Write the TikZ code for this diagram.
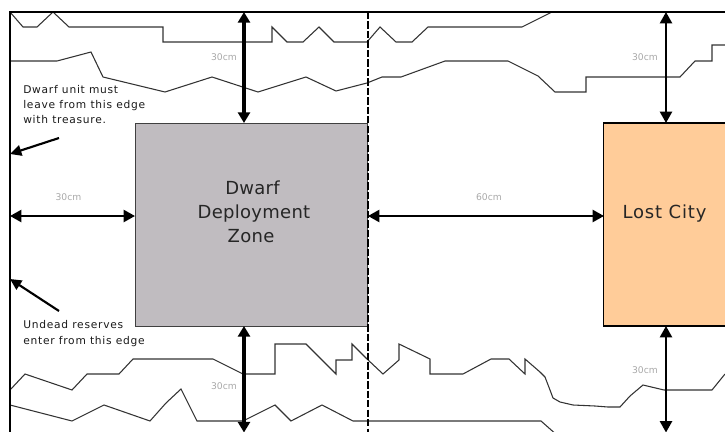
\documentclass[tikz,border=0pt]{standalone}
\usepackage{fontspec}
\setmainfont{DejaVu Sans}
\newfontfamily\notefont[LetterSpace=7]{DejaVu Sans}
\newfontfamily\zonefont[LetterSpace=1.5]{DejaVu Sans}
\newfontfamily\cityfont[LetterSpace=4.5]{DejaVu Sans}
\usetikzlibrary{arrows.meta}
\definecolor{zonegrey}{HTML}{C0BCC0}
\definecolor{cityorange}{HTML}{FFCC99}
\definecolor{dimgrey}{HTML}{A8A8A8}
\definecolor{terrain}{HTML}{333333}
\tikzset{
  px/.style={x=0.75pt,y=-0.75pt},
  terrainline/.style={draw=terrain,line width=0.8pt,line join=miter},
  framebar/.style={draw=black,line width=0.9pt},
  centerline/.style={draw=black,line width=1.5pt,dash pattern=on 5.5pt off 1.6pt},
  zone/.style={draw=black!75,line width=0.8pt,inner sep=0pt},
  zonetext/.style={align=center,font=\zonefont\fontsize{13.5pt}{18pt}\selectfont,text=black!85,inner sep=0pt},
  dim/.style={font=\fontsize{6.9pt}{8pt}\selectfont,text=dimgrey,inner sep=0pt},
  note/.style={font=\notefont\fontsize{8pt}{11.5pt}\selectfont,align=left,anchor=base west,inner sep=0pt,text=black!90},
  heavy/.style={line width=2.6pt,{Triangle[length=8pt,width=9pt]}-{Triangle[length=8pt,width=9pt]}},
  medium/.style={line width=1.7pt,{Triangle[length=8.5pt,width=9pt]}-{Triangle[length=8.5pt,width=9pt]}},
  pointer/.style={line width=1.6pt,-{Triangle[length=8.5pt,width=8pt]}},
}
\begin{document}
\begin{tikzpicture}[px]
\useasboundingbox (0,0) rectangle (725,432);
% terrain
\begin{scope}
\clip (10,12) rectangle (725,432);
\draw[terrainline] (10,12)--(23,27)--(37,27)--(53,12)--(69,27)--(163,27)--(163,42)--(272,42)--(272,27)--(287,42)--(303,42)--(319,27)--(334,42)--(367,42)--(380,27)--(396,42)--(412,42)--(428,27)--(522,27)--(552,12);
\draw[terrainline] (10,61)--(57,61)--(91,52)--(103,77)--(165,92)--(212,77)--(258,92)--(306,77)--(336,91)--(367,83)--(382,77)--(401,77)--(445,61)--(508,61)--(538,76)--(555,92)--(586,92)--(586,77)--(680,77)--(695,61)--(712,61)--(712,45)--(725,45);
\draw[terrainline] (10,390)--(25,374)--(72,390)--(87,374)--(119,374)--(133,359)--(213,359)--(243,374)--(275,374)--(275,344)--(306,344)--(336,374)--(336,360)--(352,360)--(352,344)--(367,359)--(383,374)--(399,360)--(399,344)--(430,359)--(430,374)--(463,374)--(491,359)--(509,359)--(525,374)--(525,359)--(540,372)--(545,377)--(550,390)--(553,398)--(560,402)--(573,405)--(595,406)--(608,407)--(620,407)--(630,396)--(643,385)--(664,390)--(712,390)--(725,374);
\draw[terrainline] (10,405)--(72,421)--(104,405)--(150,421)--(166,403)--(181,389)--(197,421)--(243,421)--(275,405)--(291,421)--(322,405)--(353,421)--(541,421)--(558,436);
\end{scope}
% frame and centre line
\coordinate (tl) at (10,12);
\coordinate (tr) at (725,12);
\coordinate (bl) at (10,432);
\coordinate (ct) at (367.5,12);
\coordinate (cb) at (367.5,432);
\draw[framebar] (bl)--(tl)--(tr);
% zones
\node[zone,fill=zonegrey,minimum width=232*0.75pt,minimum height=203*0.75pt,anchor=north west] (dwarf) at (135,123) {};
\node[zonetext,anchor=base] (dwarftext) at (254,218) {\makebox[0pt]{Deployment}};
\node[zonetext,anchor=base] (dwarftop) at (252.5,194) {Dwarf};
\node[zonetext,anchor=base] (dwarfbot) at (251,242) {Zone};
\fill[cityorange,draw=black,line width=0.8pt] (603.5,123) -- (727,123) -- (727,326) -- (603.5,326) -- cycle;
\node[anchor=base,inner sep=0pt,font=\cityfont\fontsize{13.5pt}{18pt}\selectfont,text=black!85] (city) at (664.5,218) {Lost City};
\draw[centerline] (ct)--(cb);
% dimension arrows
\coordinate (a1) at (244,12);
\coordinate (a2) at (244,123);
\coordinate (a3) at (244,326);
\coordinate (a4) at (244,432.5);
\coordinate (b1) at (666,12);
\coordinate (b2) at (666,123);
\coordinate (b3) at (666,326);
\coordinate (b4) at (666,432.5);
\coordinate (h1) at (10,216);
\coordinate (h2) at (135,216);
\coordinate (h3) at (368,216);
\coordinate (h4) at (604,216);
\draw[heavy] (a1)--(a2);
\draw[heavy] (a3)--(a4);
\draw[medium] (b1)--(b2);
\draw[medium] (b3)--(b4);
\draw[medium] (h1)--(h2);
\draw[medium] (h3)--(h4);
% pointers
\coordinate (p1) at (59,138);
\coordinate (p2) at (10,154);
\coordinate (p3) at (59,311);
\coordinate (p4) at (10,279);
\draw[pointer] (p1)--(p2);
\draw[pointer] (p3)--(p4);
% labels
\node[dim] (d1) at (224,57) {30cm};
\node[dim] (d2) at (645,57) {30cm};
\node[dim] (d3) at (68.5,197) {30cm};
\node[dim] (d4) at (489,197) {60cm};
\node[dim] (d5) at (224,386) {30cm};
\node[dim] (d6) at (645,370) {30cm};
\node[note] (n1a) at (23,93) {Dwarf unit must};
\node[note] (n1b) at (23,108) {leave from this edge};
\node[note] (n1c) at (23,123) {with treasure.};
\node[note] (n2a) at (23,328) {Undead reserves};
\node[note] (n2b) at (23,344) {enter from this edge};
\end{tikzpicture}
\end{document}
